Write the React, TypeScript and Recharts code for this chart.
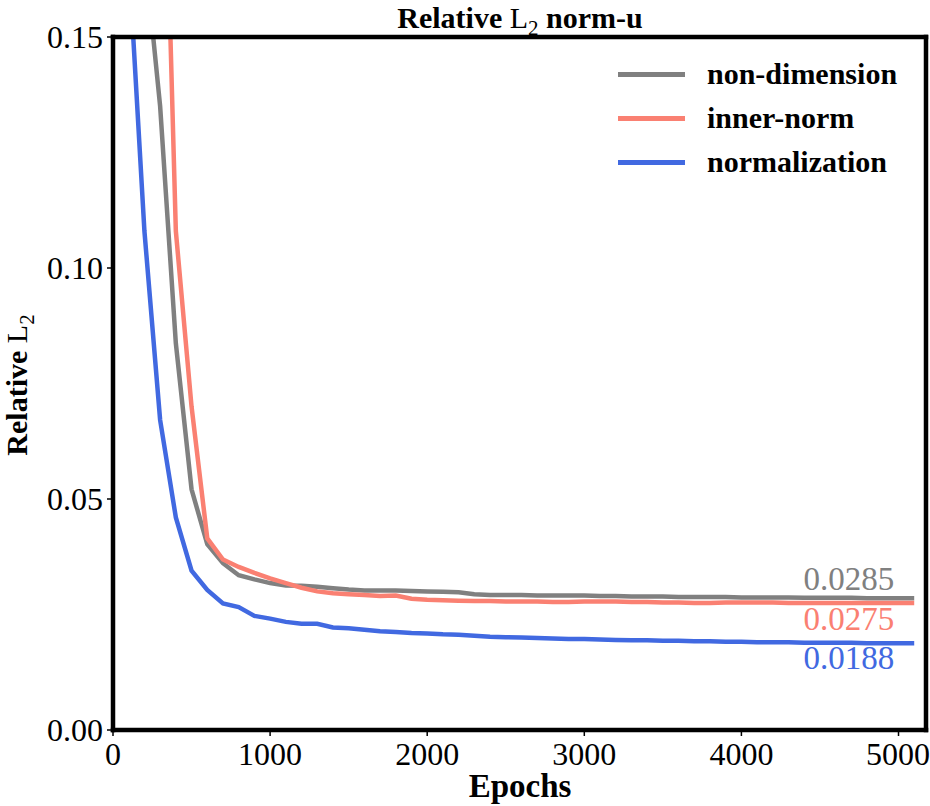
import { LineChart, Line, XAxis, YAxis, ReferenceDot } from 'recharts';

const FONT = '"Liberation Serif", "Times New Roman", serif';

const EPOCHS = [
  100, 200, 300, 400, 500, 600, 700, 800, 900, 1000,
  1100, 1200, 1300, 1400, 1500, 1600, 1700, 1800, 1900, 2000,
  2100, 2200, 2300, 2400, 2500, 2600, 2700, 2800, 2900, 3000,
  3100, 3200, 3300, 3400, 3500, 3600, 3700, 3800, 3900, 4000,
  4100, 4200, 4300, 4400, 4500, 4600, 4700, 4800, 4900, 5000,
  5100,
];

const NON_DIMENSION = [
  0.25, 0.169, 0.135, 0.0837, 0.0521, 0.0402, 0.0361, 0.0335, 0.0326, 0.0318,
  0.0313, 0.0312, 0.031, 0.0307, 0.0304, 0.0302, 0.0302, 0.0302, 0.0301, 0.03,
  0.0299, 0.0298, 0.0294, 0.0292, 0.0292, 0.0292, 0.0291, 0.0291, 0.0291, 0.0291,
  0.029, 0.029, 0.0289, 0.0289, 0.0289, 0.0288, 0.0288, 0.0288, 0.0288, 0.0287,
  0.0287, 0.0287, 0.0287, 0.0286, 0.0286, 0.0286, 0.0286, 0.0285, 0.0285, 0.0285,
  0.0285,
];

const INNER_NORM = [
  0.4, 0.32, 0.23, 0.108, 0.07, 0.0415, 0.0369, 0.0353, 0.034, 0.0328,
  0.0318, 0.0308, 0.03, 0.0296, 0.0294, 0.0292, 0.029, 0.0291, 0.0284, 0.0282,
  0.0281, 0.028, 0.0279, 0.0279, 0.0278, 0.0278, 0.0278, 0.0277, 0.0277, 0.0278,
  0.0278, 0.0278, 0.0277, 0.0277, 0.0276, 0.0276, 0.0275, 0.0275, 0.0276, 0.0276,
  0.0276, 0.0276, 0.0275, 0.0275, 0.0275, 0.0275, 0.0275, 0.0275, 0.0275, 0.0275,
  0.0275,
];

const NORMALIZATION = [
  0.167, 0.108, 0.0671, 0.046, 0.0345, 0.0303, 0.0274, 0.0266, 0.0247, 0.0241,
  0.0234, 0.023, 0.023, 0.0222, 0.022, 0.0217, 0.0214, 0.0212, 0.021, 0.0209,
  0.0207, 0.0206, 0.0204, 0.0202, 0.0201, 0.02, 0.0199, 0.0198, 0.0197, 0.0197,
  0.0196, 0.0195, 0.0194, 0.0194, 0.0193, 0.0193, 0.0192, 0.0192, 0.0191, 0.0191,
  0.019, 0.019, 0.019, 0.0189, 0.0189, 0.0189, 0.0189, 0.0188, 0.0188, 0.0188,
  0.0188,
];

const X_TICKS = [0, 1000, 2000, 3000, 4000, 5000];
const Y_TICKS = [0, 0.05, 0.1, 0.15];
const X_MAX = 5175;
const Y_MAX = 0.15;

// final-value labels: text and vertical offset from the line end
const SERIES = [
  { key: 'nonDim', name: 'non-dimension', color: '#808080', values: NON_DIMENSION, final: '0.0285', dy: -8 },
  { key: 'inner', name: 'inner-norm', color: '#FA8072', values: INNER_NORM, final: '0.0275', dy: 27 },
  { key: 'norm', name: 'normalization', color: '#4169E1', values: NORMALIZATION, final: '0.0188', dy: 26 },
];

const data = EPOCHS.map((epoch, i) => {
  const row: Record<string, number> = { epoch };
  SERIES.forEach((s) => {
    row[s.key] = s.values[i];
  });
  return row;
});

const frame = { stroke: '#000', strokeWidth: 4.5, strokeLinecap: 'square' as const };
const tickStyle = { fontSize: 32, fill: '#000', fontFamily: FONT };

export default function App() {
  const lastEpoch = EPOCHS[EPOCHS.length - 1];
  return (
    <div style={{ position: 'relative', width: 930, height: 806, background: '#fff' }}>
      <style>{'body{margin:0}'}</style>
      <LineChart
        width={930}
        height={806}
        data={data}
        margin={{ top: 36, right: 3, bottom: 0, left: 0 }}
      >
        <XAxis
          dataKey="epoch"
          type="number"
          domain={[0, X_MAX]}
          ticks={X_TICKS}
          allowDataOverflow
          height={76}
          axisLine={frame}
          tickLine={{ stroke: '#000', strokeWidth: 1.5 }}
          tickSize={6}
          tickMargin={6}
          tick={tickStyle}
        />
        {/* top and right spines */}
        <XAxis
          xAxisId="top"
          orientation="top"
          type="number"
          domain={[0, X_MAX]}
          height={1}
          tick={false}
          tickLine={false}
          axisLine={frame}
        />
        <YAxis
          type="number"
          domain={[0, Y_MAX]}
          ticks={Y_TICKS}
          allowDataOverflow
          width={113}
          axisLine={frame}
          tickLine={{ stroke: '#000', strokeWidth: 1.5 }}
          tickSize={6}
          tickMargin={4}
          tick={tickStyle}
          tickFormatter={(v: number) => v.toFixed(2)}
        />
        <YAxis
          yAxisId="right"
          orientation="right"
          type="number"
          domain={[0, Y_MAX]}
          width={1}
          tick={false}
          tickLine={false}
          axisLine={frame}
        />
        {SERIES.map((s) => (
          <Line
            key={s.key}
            dataKey={s.key}
            name={s.name}
            type="linear"
            stroke={s.color}
            strokeWidth={4.5}
            dot={false}
            activeDot={false}
            isAnimationActive={false}
          />
        ))}
        {SERIES.map((s) => (
          <ReferenceDot
            key={`end-${s.key}`}
            x={lastEpoch}
            y={s.values[s.values.length - 1]}
            r={0}
            fill="none"
            stroke="none"
            label={(props: any) => {
              const vb = props.viewBox || {};
              return (
                <text
                  x={vb.x - 20}
                  y={vb.y + s.dy}
                  textAnchor="end"
                  fontSize={33}
                  fontFamily={FONT}
                  fill={s.color}
                >
                  {s.final}
                </text>
              );
            }}
          />
        ))}
      </LineChart>

      <svg
        width={930}
        height={806}
        style={{ position: 'absolute', left: 0, top: 0, pointerEvents: 'none' }}
      >
        <text x={520} y={28} textAnchor="middle" fontFamily={FONT} fontSize={30} fill="#000">
          <tspan fontWeight="bold">Relative </tspan>
          <tspan>L</tspan>
          <tspan fontSize={21} dy={7}>2</tspan>
          <tspan fontWeight="bold" dy={-7}> norm-u</tspan>
        </text>
        <text x={520} y={797} textAnchor="middle" fontFamily={FONT} fontSize={33} fontWeight="bold" fill="#000">
          Epochs
        </text>
        <text
          transform="translate(27,385) rotate(-90)"
          textAnchor="middle"
          fontFamily={FONT}
          fontSize={30}
          fill="#000"
        >
          <tspan fontWeight="bold">Relative </tspan>
          <tspan>L</tspan>
          <tspan fontSize={21} dy={7}>2</tspan>
        </text>
      </svg>

      <div style={{ position: 'absolute', left: 618, top: 52, fontFamily: FONT }}>
        {SERIES.map((s) => (
          <div key={s.key} style={{ display: 'flex', alignItems: 'center', height: 44 }}>
            <div style={{ width: 67, height: 5, background: s.color }} />
            <span style={{ marginLeft: 22, fontSize: 30, fontWeight: 'bold', color: '#000', lineHeight: '44px' }}>
              {s.name}
            </span>
          </div>
        ))}
      </div>
    </div>
  );
}
